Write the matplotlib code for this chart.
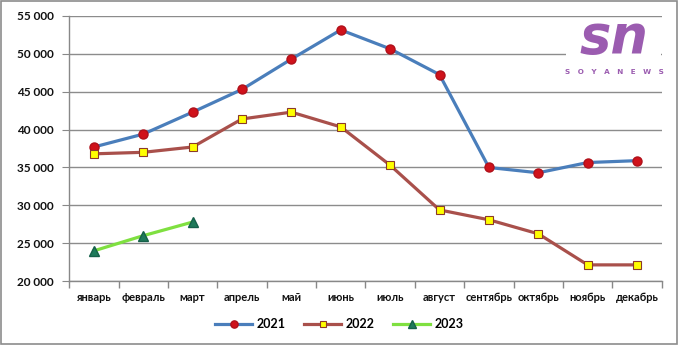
import matplotlib.pyplot as plt
from matplotlib.patches import Rectangle
from matplotlib.ticker import FuncFormatter, FixedLocator

months = ["январь", "февраль", "март", "апрель", "май", "июнь",
          "июль", "август", "сентябрь", "октябрь", "ноябрь", "декабрь"]
y2021 = [37700, 39400, 42300, 45300, 49300, 53150,
         50650, 47250, 35000, 34300, 35650, 35900]
y2022 = [36800, 37000, 37700, 41400, 42300, 40350,
         35300, 29400, 28100, 26250, 22150, 22150]
y2023 = [24000, 26000, 27800]

plt.rcParams["font.family"] = ["Lato", "DejaVu Sans"]

fig = plt.figure(figsize=(6.78, 3.45), dpi=100)
ax = fig.add_axes([0.102, 0.185, 0.874, 0.769])

x = list(range(len(months)))
ax.plot(x, y2021, color="#4A7EBB", lw=2.3, marker="o", ms=6.5,
        mfc="#D0121B", mec="#B0101A", label="2021", zorder=3)
ax.plot(x, y2022, color="#A9504B", lw=2.3, marker="s", ms=6,
        mfc="#FFFF00", mec="#8B3A2A", mew=0.8, label="2022", zorder=3)
ax.plot(x[:len(y2023)], y2023, color="#7FE040", lw=2.3, marker="^", ms=7,
        mfc="#1E7A5A", mec="#15604A", label="2023", zorder=3)

ax.set_xlim(-0.5, 11.5)
ax.set_ylim(20000, 55000)
ax.set_yticks(range(20000, 55001, 5000))
ax.yaxis.set_major_formatter(FuncFormatter(lambda v, p: f"{int(v):,}".replace(",", " ")))
ax.set_xticks(x)
ax.set_xticklabels(months, fontweight="bold")
for lab in ax.get_yticklabels():
    lab.set_fontweight("bold")
ax.xaxis.set_minor_locator(FixedLocator([i - 0.5 for i in range(13)]))
ax.tick_params(axis="x", which="major", length=0, pad=8, labelsize=8, colors="#111111")
ax.tick_params(axis="x", which="minor", length=5, color="#888888", width=1)
ax.tick_params(axis="y", length=5, color="#888888", labelsize=8.5, labelcolor="#111111", pad=6)

ax.grid(axis="y", color="#8C8C8C", lw=1)
ax.set_axisbelow(True)
for s in ["top", "right"]:
    ax.spines[s].set_visible(False)
for s in ["left", "bottom"]:
    ax.spines[s].set_color("#888888")
    ax.spines[s].set_linewidth(1)

leg = ax.legend(loc="center", bbox_to_anchor=(0.5, 0.06), bbox_transform=fig.transFigure,
                ncol=3, frameon=False, handlelength=3.0, columnspacing=1.5,
                handletextpad=0.3, markerscale=0.8, prop={"size": 9, "weight": "bold"})

# watermark logo on white patch (hides grid behind it)
fig.patches.append(Rectangle((0.835, 0.76), 0.14, 0.185, transform=fig.transFigure,
                             facecolor="white", edgecolor="none", zorder=1))
fig.text(0.906, 0.845, "sn", color="#9B5CB0", fontsize=38, style="italic",
         fontweight="bold", ha="center", va="baseline", family="DejaVu Sans", zorder=2)
fig.text(0.906, 0.792, "S   O   Y   A   N   E   W   S", color="#9B5CB0", fontsize=5.2,
         fontweight="bold", ha="center", va="center", family="DejaVu Sans", zorder=2)

fig.patches.append(Rectangle((0.001, 0.002), 0.997, 0.995, transform=fig.transFigure,
                             fill=False, edgecolor="#8C8C8C", lw=1.2))

fig.savefig("out.png", dpi=100)
